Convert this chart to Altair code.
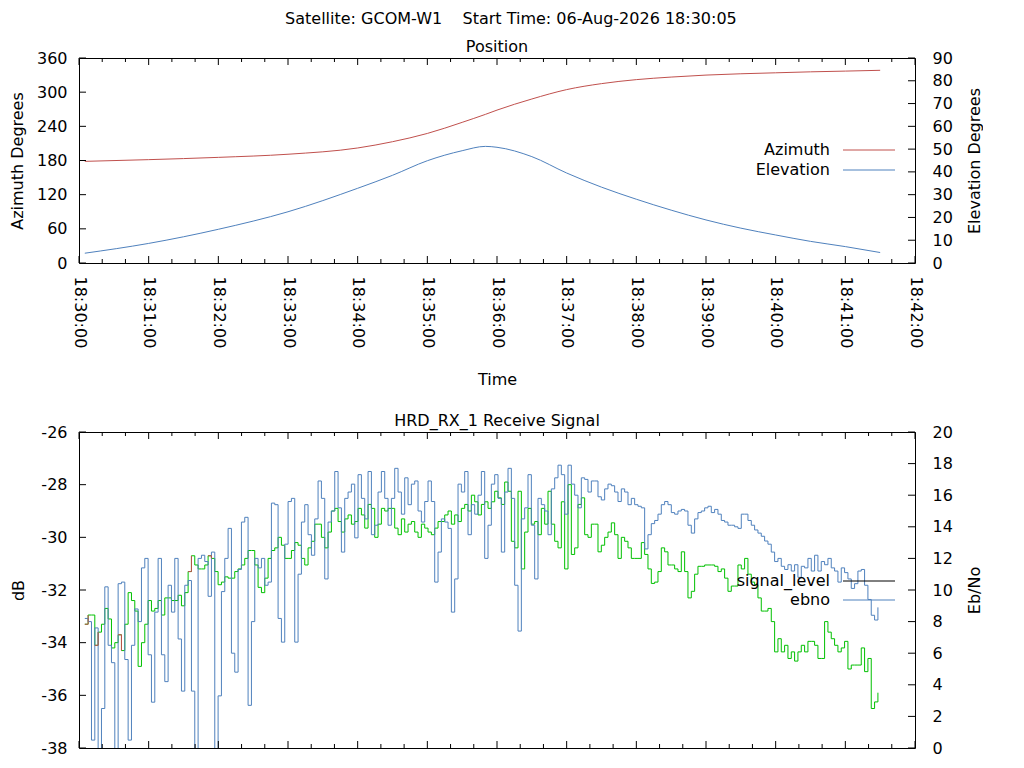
import altair as alt
import pandas as pd
import numpy as np

FONT = "DejaVu Sans"
FS = 16
RED = "#c0504d"
BLUE = "#4f81bd"
GREEN = "#00c000"

DAY = "2026-08-06"
MAIN_TITLE = "Satellite: GCOM-W1\u00a0\u00a0\u00a0\u00a0Start Time: 06-Aug-2026 18:30:05"

# ---------------- position panel data ----------------
POS_TIMES = ["18:30:05", "18:31:00", "18:32:00", "18:33:00", "18:34:00", "18:34:30",
             "18:35:00", "18:35:30", "18:35:50", "18:36:00", "18:36:30", "18:37:00",
             "18:37:30", "18:38:00", "18:38:30", "18:39:00", "18:39:30", "18:40:00",
             "18:40:30", "18:41:00", "18:41:30"]
AZIMUTH = [178.5, 181.5, 185.5, 191.0, 202.0, 213.0, 227.5, 247.0, 261.0, 268.5, 288.0,
           304.5, 315.0, 322.0, 326.5, 330.0, 332.3, 334.0, 335.7, 337.0, 338.4]
ELEVATION = [4.3, 8.6, 14.8, 22.5, 32.8, 38.5, 44.9, 49.3, 51.2, 50.8, 46.7, 39.5,
             33.3, 28.0, 23.2, 18.9, 15.3, 12.3, 9.5, 7.2, 4.6]

# ---------------- receive signal panel data ----------------
SIG_START = "18:30:05"
SIG_STEP_S = 2.87
SIGNAL_LEVEL = [
    -33.3, -32.95, -32.95, -34.1, -33.6, -33.3, -32.7, -33.1, -34.2, -34.0,
    -33.7, -34.3, -33.3, -32.1, -32.4, -32.8, -34.9, -34.0, -33.3, -32.4,
    -32.8, -32.7, -32.4, -32.95, -32.3, -32.3, -32.4, -32.4, -32.2, -32.6,
    -32.1, -31.3, -30.7, -31.05, -31.2, -31.2, -31.05, -30.7, -30.8, -31.3,
    -31.8, -31.7, -31.5, -31.55, -31.55, -31.3, -31.2, -31.05, -30.8, -30.5,
    -30.5, -31.05, -31.9, -32.1, -31.55, -30.8, -30.5, -30.4, -30.0, -30.3,
    -30.8, -30.8, -30.5, -30.2,
    -30.3, -30.8, -31.05, -30.4, -30.15, -29.5, -29.5, -30.0, -30.4, -29.8,
    -29.0, -28.9, -29.4, -29.8, -29.3, -29.15, -29.5, -29.4, -28.9, -29.15,
    -29.65, -28.75, -28.9, -30.0, -29.5, -28.9, -29.0, -28.9, -28.9, -29.65,
    -29.9, -29.3, -29.8, -29.5, -29.4, -29.8, -30.0, -29.5, -29.65, -29.8,
    -29.9, -29.65, -29.4, -29.4, -29.15, -29.0, -29.5, -29.15, -29.4, -28.9,
    -28.75, -29.0, -28.4, -28.65, -29.15, -28.75, -28.65, -28.9, -28.65, -28.25,
    -28.5, -28.75, -27.9,
    -28.25, -30.15, -30.4, -28.25, -31.2, -29.8, -28.9, -29.5, -29.4, -29.9,
    -28.9, -29.5, -28.25, -29.5, -30.15, -30.4, -28.65, -31.2, -28.0, -30.65,
    -30.4, -28.75, -28.5, -29.9, -30.0, -29.5, -29.5, -30.55, -30.3, -30.0,
    -29.8, -29.45, -29.9, -30.8, -30.0, -30.15, -30.4, -30.8, -30.8, -30.8,
    -30.2, -30.65, -31.2, -31.75, -31.7, -31.3, -30.4, -30.55, -31.05, -31.05,
    -31.2, -31.3, -30.55, -31.3, -32.3, -32.05, -31.4, -31.1, -31.1, -31.05,
    -31.05, -31.05, -31.1,
    -31.3, -31.2, -31.55, -32.05, -31.85, -31.85, -31.05, -31.2, -30.8, -31.4,
    -31.7, -31.8, -32.3, -32.8, -32.8, -32.7, -33.2, -34.35, -33.85, -34.35,
    -34.1, -34.6, -34.35, -34.7, -34.35, -34.1, -34.35, -33.95, -33.95, -34.1,
    -34.6, -34.6, -33.2, -33.6, -33.85, -34.1, -34.35, -34.2, -33.95, -35.0,
    -34.85, -34.85, -34.85, -34.2, -35.1, -34.6, -36.5, -36.25, -35.9,
]
EBNO = [
    8.2, 8.0, 0.5, 7.6, -1.0, 2.5, 10.2, 6.5, 5.4, -1.0,
    10.4, 10.5, 5.6, 0.5, 6.5, 8.8, 8.0, 11.4, 12.0, 5.9,
    2.9, 8.6, 12.0, 5.9, 4.2, 10.3, 8.6, 12.0, 6.9, 3.6,
    10.3, 10.6, 3.6, -1.0, 12.0, 12.2, 11.8, 9.6, 12.4, -1.0,
    3.3, 9.9, 12.0, 13.9, 6.0, 4.8, 11.3, 14.3, 14.6, 2.7,
    8.0, 12.0, 11.4, 12.0, 10.3, 10.5, 15.5, 15.4, 8.2, 6.7,
    12.9, 15.6, 15.8, 6.7,
    11.0, 14.3, 15.4, 13.5, 12.2, 14.5, 16.9, 15.8, 10.7, 14.3,
    15.0, 17.5, 15.2, 12.4, 15.8, 16.2, 16.7, 13.3, 17.3, 15.8,
    14.5, 17.5, 13.5, 14.1, 16.2, 17.5, 15.8, 14.1, 15.8, 17.7,
    16.2, 14.8, 17.1, 15.4, 16.7, 16.9, 15.0, 14.3, 15.6, 16.9,
    15.6, 10.5, 12.4, 14.5, 14.3, 13.9, 8.6, 10.7, 16.7, 16.2,
    17.5, 13.5, 15.4, 14.8, 16.0, 17.5, 12.0, 14.1, 16.7, 17.3,
    15.8, 12.4, 16.2,
    17.7, 15.8, 10.3, 7.4, 14.5, 15.2, 17.3, 14.1, 10.7, 15.8,
    15.4, 15.0, 13.5, 16.4, 17.1, 17.9, 17.3, 14.8, 17.9, 16.7,
    16.0, 15.2, 17.1, 17.0, 16.2, 16.9, 16.9, 15.9, 15.7, 16.4,
    16.7, 16.6, 16.2, 15.6, 16.4, 16.2, 15.4, 15.8, 15.4, 15.3,
    15.2, 12.6, 13.5, 14.2, 14.4, 14.8, 15.4, 15.6, 15.4, 14.9,
    14.8, 15.0, 15.1, 15.0, 14.1, 13.6, 14.5, 14.9, 15.0, 15.2,
    15.3, 14.9, 15.1,
    14.8, 14.4, 14.3, 14.1, 14.1, 14.0, 13.9, 14.8, 14.8, 14.4,
    14.1, 13.8, 13.6, 13.4, 13.1, 12.9, 12.4, 11.8, 12.0, 11.5,
    11.3, 11.6, 11.2, 11.6, 10.8, 11.5, 11.4, 12.0, 11.2, 12.2,
    11.2, 11.8, 11.6, 12.0, 11.4, 11.2, 10.5, 11.4, 11.1, 10.7,
    10.1, 10.4, 11.2, 11.3, 10.3, 9.4, 8.4, 8.1, 8.9,
]
# samples where the signal level trace is drawn red instead of green
RED_IDX = [0, 3, 10, 31, 37]

# ---------------- axes ----------------
X_MAJOR = ["18:30:00", "18:31:00", "18:32:00", "18:33:00", "18:34:00", "18:35:00",
           "18:36:00", "18:37:00", "18:38:00", "18:39:00", "18:40:00", "18:41:00",
           "18:42:00"]
AZ_TICKS = [0, 60, 120, 180, 240, 300, 360]
EL_TICKS = [0, 10, 20, 30, 40, 50, 60, 70, 80, 90]
DB_TICKS = [-38, -36, -34, -32, -30, -28, -26]
EB_TICKS = [0, 2, 4, 6, 8, 10, 12, 14, 16, 18, 20]

W, H1, H2 = 836, 205, 316


def dt(hms):
    h, m, s = (int(p) for p in hms.split(":"))
    return alt.DateTime(year=2026, month=8, date=6, hours=h, minutes=m, seconds=s)


x_scale = alt.Scale(domain=[dt(X_MAJOR[0]), dt(X_MAJOR[-1])], nice=False)

major_ts = pd.to_datetime([f"{DAY} {s}" for s in X_MAJOR])
minor_ts = []
for a in major_ts[:-1]:
    minor_ts += [a + pd.Timedelta(seconds=20), a + pd.Timedelta(seconds=40)]


def iso(ts):
    return [t.strftime("%Y-%m-%dT%H:%M:%S.%f")[:-3] for t in ts]


major_df = pd.DataFrame({"t": iso(major_ts)})
minor_df = pd.DataFrame({"t": iso(minor_ts)})

top_x_axis = alt.Axis(values=[dt(s) for s in X_MAJOR], format="%H:%M:%S", labelAngle=90,
                      labelAlign="left", labelBaseline="middle", labelPadding=13,
                      ticks=False, domain=False, grid=False, title="Time",
                      titlePadding=24, labelFlush=False, labelOverlap=False)


def X(axis):
    return alt.X("t:T", scale=x_scale, axis=axis)


def x_tick_layers(h, axis):
    out = []
    for df, L in [(major_df, 7), (minor_df, 4)]:
        base = alt.Chart(df).mark_rule(color="black", strokeWidth=1).encode(x=X(axis))
        out.append(base.encode(y=alt.value(h), y2=alt.value(h - L)))
        out.append(base.encode(y=alt.value(0), y2=alt.value(L)))
    return out


def y_tick_layer(values, domain, side):
    df = pd.DataFrame({"v": values})
    x0, x1 = (0, 7) if side == "left" else (W, W - 7)
    return alt.Chart(df).mark_rule(color="black", strokeWidth=1).encode(
        y=alt.Y("v:Q", scale=alt.Scale(domain=domain, nice=False, zero=False), axis=None),
        x=alt.value(x0), x2=alt.value(x1))


def legend_layers(items):
    out = []
    for label, color, ypix in items:
        d = pd.DataFrame({"label": [label]})
        out.append(alt.Chart(d).mark_text(align="right", baseline="middle", font=FONT,
                                          fontSize=FS, color="black").encode(
            text="label:N", x=alt.value(751), y=alt.value(ypix)))
        out.append(alt.Chart(d).mark_rule(color=color, strokeWidth=1).encode(
            x=alt.value(764), x2=alt.value(816), y=alt.value(ypix)))
    return out


def y_axis(values, title, orient, pad, tpad):
    kw = dict(values=values, orient=orient, title=title, ticks=False, domain=False,
              grid=False, labelPadding=pad, titlePadding=tpad, labelFlush=False,
              labelOverlap=False, labelExpr="toString(datum.value)")
    if orient == "right":
        kw.update(titleAngle=270, titleBaseline="top")
    return alt.Axis(**kw)


# ---------------- top panel ----------------
pos_df = pd.DataFrame({"t": [f"{DAY}T{s}" for s in POS_TIMES],
                       "az": AZIMUTH, "el": ELEVATION})

az_line = alt.Chart(pos_df).mark_line(color=RED, strokeWidth=1, interpolate="monotone").encode(
    x=X(top_x_axis),
    y=alt.Y("az:Q", scale=alt.Scale(domain=[0, 360], nice=False),
            axis=y_axis(AZ_TICKS, "Azimuth Degrees", "left", 12, 11)))
el_line = alt.Chart(pos_df).mark_line(color=BLUE, strokeWidth=1, interpolate="monotone").encode(
    x=X(top_x_axis),
    y=alt.Y("el:Q", scale=alt.Scale(domain=[0, 90], nice=False),
            axis=y_axis(EL_TICKS, "Elevation Degrees", "right", 17, 14)))

top = alt.layer(
    az_line, el_line,
    y_tick_layer(AZ_TICKS, [0, 360], "left"),
    y_tick_layer(EL_TICKS, [0, 90], "right"),
    *x_tick_layers(H1, top_x_axis),
    *legend_layers([("Azimuth", RED, 92), ("Elevation", BLUE, 112)]),
).resolve_scale(y="independent").properties(
    width=W, height=H1,
    title=alt.TitleParams("Position", frame="group", anchor="middle", offset=-5))

# ---------------- bottom panel ----------------
t0 = pd.Timestamp(f"{DAY} {SIG_START}")
sig_ts = [t0 + pd.Timedelta(seconds=i * SIG_STEP_S) for i in range(len(EBNO))]
sig_df = pd.DataFrame({"t": iso(sig_ts), "sig": SIGNAL_LEVEL, "ebno": EBNO})

red_rows = []
for i in RED_IDX:
    red_rows.append({"t": iso([sig_ts[i]])[0], "sig": SIGNAL_LEVEL[i], "seg": i})
    red_rows.append({"t": iso([sig_ts[i + 1]])[0], "sig": SIGNAL_LEVEL[i + 1], "seg": i})
red_df = pd.DataFrame(red_rows)

db_scale = alt.Scale(domain=[-38, -26], nice=False, zero=False)
sig_line = alt.Chart(sig_df).mark_line(color=GREEN, strokeWidth=1,
                                        interpolate="step-after", clip=True).encode(
    x=X(None),
    y=alt.Y("sig:Q", scale=db_scale, axis=y_axis(DB_TICKS, "dB", "left", 12, 14)))
ebno_line = alt.Chart(sig_df).mark_line(color=BLUE, strokeWidth=1,
                                         interpolate="step-after", clip=True).encode(
    x=X(None),
    y=alt.Y("ebno:Q", scale=alt.Scale(domain=[0, 20], nice=False, zero=False),
            axis=y_axis(EB_TICKS, "Eb/No", "right", 17, 14)))
sig_red = alt.Chart(red_df).mark_line(color=RED, strokeWidth=1,
                                       interpolate="step-after", clip=True).encode(
    x=X(None),
    y=alt.Y("sig:Q", scale=db_scale, axis=None),
    detail="seg:N")

bottom = alt.layer(
    sig_line, ebno_line, sig_red,
    y_tick_layer(DB_TICKS, [-38, -26], "left"),
    y_tick_layer(EB_TICKS, [0, 20], "right"),
    *x_tick_layers(H2, None),
    *legend_layers([("signal_level", "black", 149), ("ebno", BLUE, 168)]),
).resolve_scale(y="independent").properties(
    width=W, height=H2,
    title=alt.TitleParams("HRD_RX_1 Receive Signal", frame="group", anchor="middle", offset=-5))

chart = alt.vconcat(top, bottom, spacing=23).properties(
    title=alt.TitleParams(MAIN_TITLE, anchor="middle", offset=12, dx=15),
    padding={"left": 0, "top": 2, "right": 0, "bottom": 0},
).configure_view(stroke="black", strokeWidth=1).configure_axis(
    labelFont=FONT, titleFont=FONT, labelFontSize=FS, titleFontSize=FS,
    labelColor="black", titleColor="black", titleFontWeight="normal",
).configure_title(font=FONT, fontSize=FS, fontWeight="normal", color="black")

chart.save("out.html", embed_options={"renderer": "svg", "actions": False})
